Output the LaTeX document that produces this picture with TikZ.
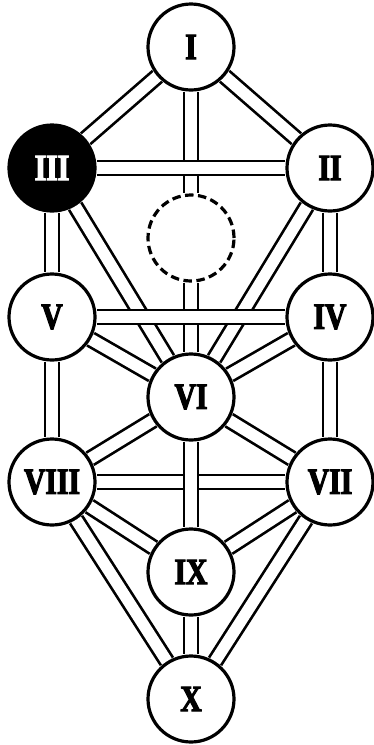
\documentclass[tikz,border=0pt]{standalone}
\usepackage{fontspec}
\newfontfamily\numfont[FakeStretch=0.8,FakeBold=3]{Liberation Serif}
\usetikzlibrary{backgrounds}

\begin{document}
\begin{tikzpicture}[
x=1pt,y=1pt,
sph/.style={circle,draw,line width=3.2pt,fill=white,minimum size=86pt,inner sep=0pt,font=\numfont\bfseries\fontsize{37}{40}\selectfont},
dark/.style={sph,fill=black,text=white},
hidden/.style={circle,draw,line width=3.2pt,dash pattern=on 8.5pt off 4.5pt,fill=white,minimum size=86pt,inner sep=0pt},
bar/.style={draw=black,line width=2.7pt,double=white,double distance=11.5pt}
]
\useasboundingbox (0,0) rectangle (374,-745);
\node[sph] (s1) at (191,-47) {I};
\node[sph] (s2) at (330,-168) {II};
\node[dark] (s3) at (52,-168) {III};
\node[hidden] (daath) at (191,-238) {};
\node[sph] (s4) at (330,-317) {IV};
\node[sph] (s5) at (52,-317) {V};
\node[sph] (s6) at (191,-397) {VI};
\node[sph] (s7) at (330,-482) {VII};
\node[sph] (s8) at (52,-482) {VIII};
\node[sph] (s9) at (191,-572) {IX};
\node[sph] (s10) at (191,-699) {X};
\begin{scope}[on background layer]
% middle pillar under the crossbars
\draw[bar] (s1) -- (daath);
\draw[bar] (daath) -- (s6);
\draw[bar] (s3) -- (s6);
\draw[bar] (s2) -- (s6);
\draw[bar] (s3) -- (s2);
\draw[bar] (s5) -- (s4);
\draw[bar] (s1) -- (s2);
\draw[bar] (s1) -- (s3);
\draw[bar] (s2) -- (s4);
\draw[bar] (s3) -- (s5);
\draw[bar] (s4) -- (s6);
\draw[bar] (s5) -- (s6);
\draw[bar] (s4) -- (s7);
\draw[bar] (s5) -- (s8);
\draw[bar] (s6) -- (s7);
\draw[bar] (s6) -- (s8);
\draw[bar] (s8) -- (s7);
\draw[bar] (s6) -- (s9);
\draw[bar] (s7) -- (s9);
\draw[bar] (s8) -- (s9);
\draw[bar] (s7) -- (s10);
\draw[bar] (s8) -- (s10);
\draw[bar] (s9) -- (s10);
\end{scope}
\end{tikzpicture}
\end{document}
